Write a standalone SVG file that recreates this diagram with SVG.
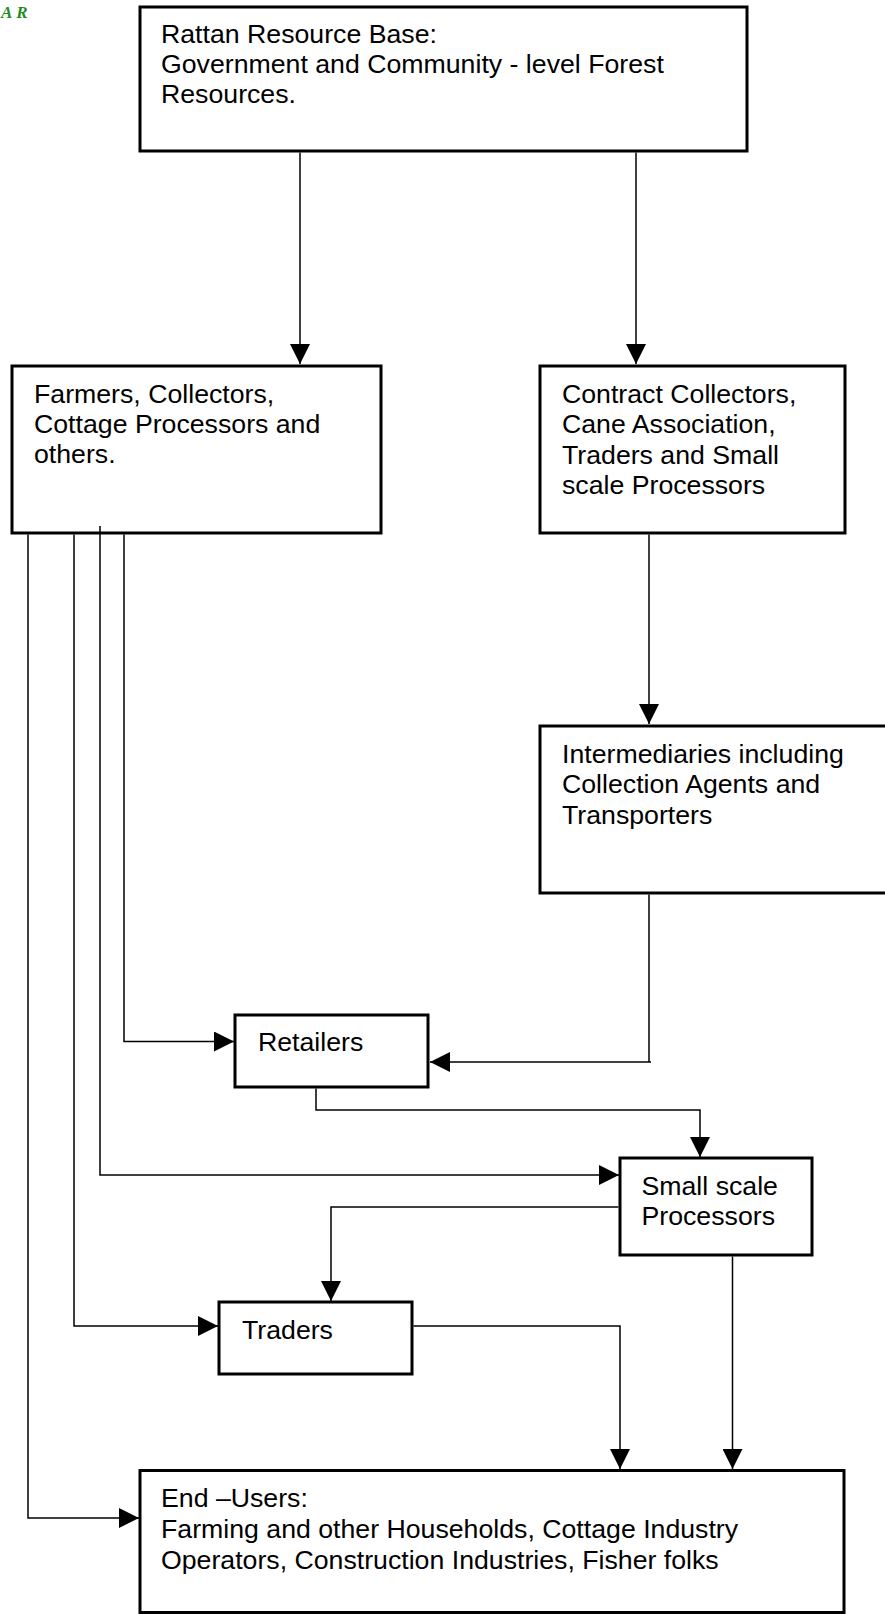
<svg xmlns="http://www.w3.org/2000/svg" width="885" height="1614" viewBox="0 0 885 1614">
<style>
.box{fill:#fff;stroke:#000;stroke-width:3}
.t{font-family:"Liberation Sans",Arial,sans-serif;font-size:26.7px;fill:#000}
.c{fill:none;stroke:#000;stroke-width:1.5}
.ar{font-family:"Liberation Serif","Times New Roman",serif;font-size:17px;font-weight:bold;font-style:italic;fill:#1e8c1e;letter-spacing:4px}
</style>
<defs>
<marker id="ah" markerUnits="userSpaceOnUse" markerWidth="20" markerHeight="20" viewBox="0 0 18 18" refX="18" refY="9" orient="auto">
<path d="M0,0 L18,9 L0,18 Z" fill="#000"/>
</marker>
</defs>
<rect width="885" height="1614" fill="#fff"/>
<text class="ar" x="1" y="18">AR</text>
<g id="n-top">
<rect class="box" x="140" y="7" width="607" height="144"/>
<text class="t" x="161"><tspan x="161" y="43">Rattan Resource Base:</tspan><tspan x="161" y="73">Government and Community - level Forest</tspan><tspan x="161" y="103">Resources.</tspan></text>
</g>
<g id="n-farmers">
<rect class="box" x="12" y="366" width="369" height="167"/>
<text class="t"><tspan x="34" y="403">Farmers, Collectors,</tspan><tspan x="34" y="433">Cottage Processors and</tspan><tspan x="34" y="463">others.</tspan></text>
</g>
<g id="n-contract">
<rect class="box" x="540" y="366" width="305" height="167"/>
<text class="t"><tspan x="562" y="403">Contract Collectors,</tspan><tspan x="562" y="433">Cane Association,</tspan><tspan x="562" y="464">Traders and Small</tspan><tspan x="562" y="494">scale Processors</tspan></text>
</g>
<g id="n-intermediaries">
<rect class="box" x="540" y="726" width="360" height="167"/>
<text class="t"><tspan x="562" y="763">Intermediaries including</tspan><tspan x="562" y="793">Collection Agents and</tspan><tspan x="562" y="824">Transporters</tspan></text>
</g>
<g id="n-retailers">
<rect class="box" x="235" y="1015" width="193" height="72"/>
<text class="t" x="258" y="1051">Retailers</text>
</g>
<g id="n-small">
<rect class="box" x="620" y="1158" width="192" height="97"/>
<text class="t"><tspan x="641.5" y="1195">Small scale</tspan><tspan x="641.5" y="1225">Processors</tspan></text>
</g>
<g id="n-traders">
<rect class="box" x="219" y="1302" width="193" height="72"/>
<text class="t" x="242" y="1339">Traders</text>
</g>
<g id="n-end">
<rect class="box" x="140" y="1470.5" width="704" height="142"/>
<text class="t"><tspan x="161" y="1507">End –Users:</tspan><tspan x="161" y="1538">Farming and other Households, Cottage Industry</tspan><tspan x="161" y="1569">Operators, Construction Industries, Fisher folks</tspan></text>
</g>
<g id="connectors">
<path class="c" d="M300,152.5 V364" marker-end="url(#ah)"/>
<path class="c" d="M636,152.5 V364" marker-end="url(#ah)"/>
<path class="c" d="M649,534.5 V724" marker-end="url(#ah)"/>
<path class="c" d="M651,1062 H649 V894.5 M649,1062 H430" marker-end="url(#ah)"/>
<path class="c" d="M124,534.5 V1041.5 H234" marker-end="url(#ah)"/>
<path class="c" d="M100,526 V1175 H619" marker-end="url(#ah)"/>
<path class="c" d="M74,534.5 V1326 H218" marker-end="url(#ah)"/>
<path class="c" d="M28,534.5 V1518 H139" marker-end="url(#ah)"/>
<path class="c" d="M316,1088.5 V1110 H700 V1157" marker-end="url(#ah)"/>
<path class="c" d="M618.5,1207 H331 V1301" marker-end="url(#ah)"/>
<path class="c" d="M413.5,1326 H620 V1469" marker-end="url(#ah)"/>
<path class="c" d="M732.5,1256.5 V1469" marker-end="url(#ah)"/>
</g>
</svg>
